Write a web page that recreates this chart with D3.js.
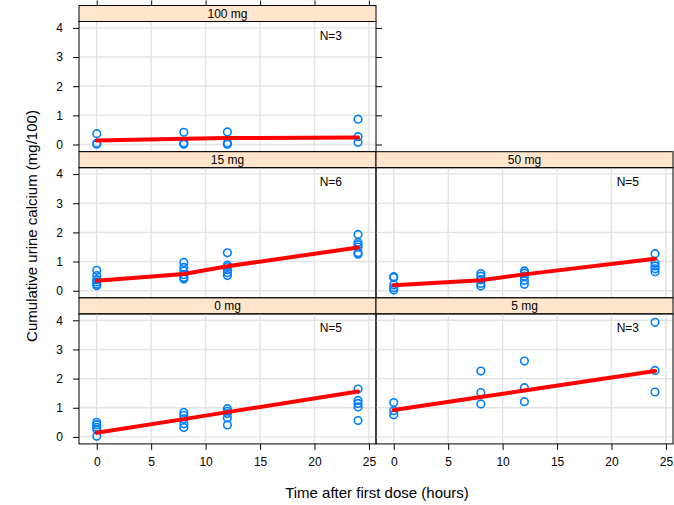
<!DOCTYPE html>
<html>
<head>
<meta charset="utf-8">
<script src="https://cdn.jsdelivr.net/npm/d3@7"></script>
<style>
  body { margin: 0; background: #fff; }
  text { font-family: "Liberation Sans", Arial, Helvetica, sans-serif; fill: #000; }
</style>
</head>
<body>
<div id="chart"></div>
<script>
// Panels (dose groups) and sampling times
const panels = ['100 mg', '15 mg', '50 mg', '0 mg', '5 mg'];
const times = [0, 8, 12, 24];
const nSubjects = [3, 6, 5, 5, 3];

// Observed cumulative urine calcium, one list per time point
const obs100 = [[0.37, 0.04, 0.01], [0.42, 0.05, 0.01], [0.43, 0.05, 0.01], [0.87, 0.27, 0.07]];
const obs15 = [[0.7, 0.52, 0.38, 0.3, 0.22, 0.17], [0.97, 0.8, 0.68, 0.55, 0.45, 0.4],
               [1.3, 0.88, 0.82, 0.72, 0.62, 0.52], [1.93, 1.65, 1.58, 1.5, 1.3, 1.25]];
const obs50 = [[0.48, 0.45, 0.2, 0.1, 0.02], [0.59, 0.5, 0.38, 0.25, 0.16],
               [0.68, 0.6, 0.5, 0.35, 0.22], [1.27, 0.95, 0.85, 0.75, 0.65]];
const obs0 = [[0.5, 0.42, 0.33, 0.25, 0.02], [0.84, 0.74, 0.62, 0.45, 0.32],
              [0.97, 0.88, 0.8, 0.65, 0.41], [1.64, 1.25, 1.15, 1.03, 0.56]];
const obs5 = [[1.18, 0.9, 0.76], [2.26, 1.52, 1.13], [2.6, 1.69, 1.21], [3.93, 2.28, 1.54]];

// Smoothed trend at each time point
const fit100 = [0.14, 0.2, 0.22, 0.24];
const fit15 = [0.34, 0.57, 0.84, 1.48];
const fit50 = [0.19, 0.36, 0.56, 1.1];
const fit0 = [0.14, 0.61, 0.85, 1.56];
const fit5 = [0.92, 1.37, 1.59, 2.26];

const xTicks = [0, 5, 10, 15, 20, 25];
const yTicks = [0, 1, 2, 3, 4];

const observed = [obs100, obs15, obs50, obs0, obs5];
const fitted = [fit100, fit15, fit50, fit0, fit5];

// Layout
const W = 674, H = 505;
const colX = [79, 376];
const rowY = [5.5, 151.7, 297.9];
const panelW = 297, stripH = 16, plotH = 130;
const cell = { '100 mg': [0, 0], '15 mg': [1, 0], '50 mg': [1, 1], '0 mg': [2, 0], '5 mg': [2, 1] };

const x = d3.scaleLinear().domain([-1.63, 25.65]).range([0, panelW]);
const y = d3.scaleLinear().domain([-0.24, 4.22]).range([plotH, 0]);

const svg = d3.select('#chart').append('svg')
    .attr('width', W)
    .attr('height', H);

const line = d3.line()
    .x(d => x(d.t))
    .y(d => y(d.v));

panels.forEach((name, i) => {
    const [r, c] = cell[name];
    const g = svg.append('g')
        .attr('transform', `translate(${colX[c]},${rowY[r]})`);

    // strip
    g.append('rect')
        .attr('width', panelW).attr('height', stripH)
        .attr('fill', '#ffe5cc').attr('stroke', '#000').attr('stroke-width', 1);
    g.append('text')
        .attr('x', panelW / 2).attr('y', stripH / 2)
        .attr('dy', '0.36em').attr('text-anchor', 'middle')
        .style('font-size', '12px')
        .text(name);

    const p = g.append('g').attr('transform', `translate(0,${stripH})`);

    // grid
    p.selectAll('.vg').data(xTicks).enter().append('line')
        .attr('x1', d => x(d)).attr('x2', d => x(d))
        .attr('y1', 0).attr('y2', plotH)
        .attr('stroke', '#e3e3e3').attr('stroke-width', 1.4);
    p.selectAll('.hg').data(yTicks).enter().append('line')
        .attr('y1', d => y(d)).attr('y2', d => y(d))
        .attr('x1', 0).attr('x2', panelW)
        .attr('stroke', '#e3e3e3').attr('stroke-width', 1.4);

    // points
    const pts = [];
    observed[i].forEach((vals, k) => vals.forEach(v => pts.push({ t: times[k], v: v })));
    p.selectAll('circle').data(pts).enter().append('circle')
        .attr('cx', d => x(d.t)).attr('cy', d => y(d.v))
        .attr('r', 3.8)
        .attr('fill', 'none').attr('stroke', '#0080ff').attr('stroke-width', 1.6);

    // trend line
    p.append('path')
        .datum(fitted[i].map((v, k) => ({ t: times[k], v: v })))
        .attr('fill', 'none').attr('stroke', '#ff0000')
        .attr('stroke-width', 4).attr('stroke-linecap', 'round')
        .attr('d', line);

    // N label
    p.append('text')
        .attr('x', x(21.5)).attr('y', y(3.75))
        .attr('dy', '0.36em').attr('text-anchor', 'middle')
        .style('font-size', '12px')
        .text('N=' + nSubjects[i]);

    // frame
    p.append('rect')
        .attr('width', panelW).attr('height', plotH)
        .attr('fill', 'none').attr('stroke', '#000').attr('stroke-width', 1);

    // left axis
    if (c === 0) {
        p.append('g')
            .call(d3.axisLeft(y).tickValues(yTicks).tickSize(6).tickPadding(10).tickFormat(d3.format('d')))
            .call(a => a.select('.domain').remove())
            .call(a => a.selectAll('text').style('font-size', '12px'));
    }
    // bottom axis
    if (r === 2) {
        p.append('g')
            .attr('transform', `translate(0,${plotH})`)
            .call(d3.axisBottom(x).tickValues(xTicks).tickSize(6).tickPadding(8))
            .call(a => a.select('.domain').remove())
            .call(a => a.selectAll('text').style('font-size', '12px'));
    }
    // top and right ticks for the top panel
    if (r === 0) {
        g.append('g')
            .call(d3.axisTop(x).tickValues(xTicks).tickSize(5).tickFormat(''))
            .call(a => a.select('.domain').remove());
        p.append('g')
            .attr('transform', `translate(${panelW},0)`)
            .call(d3.axisRight(y).tickValues(yTicks).tickSize(6).tickFormat(''))
            .call(a => a.select('.domain').remove());
    }
});

// axis titles
svg.append('text')
    .attr('x', 377).attr('y', 493)
    .attr('dy', '0.35em').attr('text-anchor', 'middle')
    .style('font-size', '15px')
    .text('Time after first dose (hours)');

svg.append('text')
    .attr('transform', 'translate(32,226) rotate(-90)')
    .attr('dy', '0.35em').attr('text-anchor', 'middle')
    .style('font-size', '15px')
    .text('Cumulative urine calcium (mg/100)');
</script>
</body>
</html>
